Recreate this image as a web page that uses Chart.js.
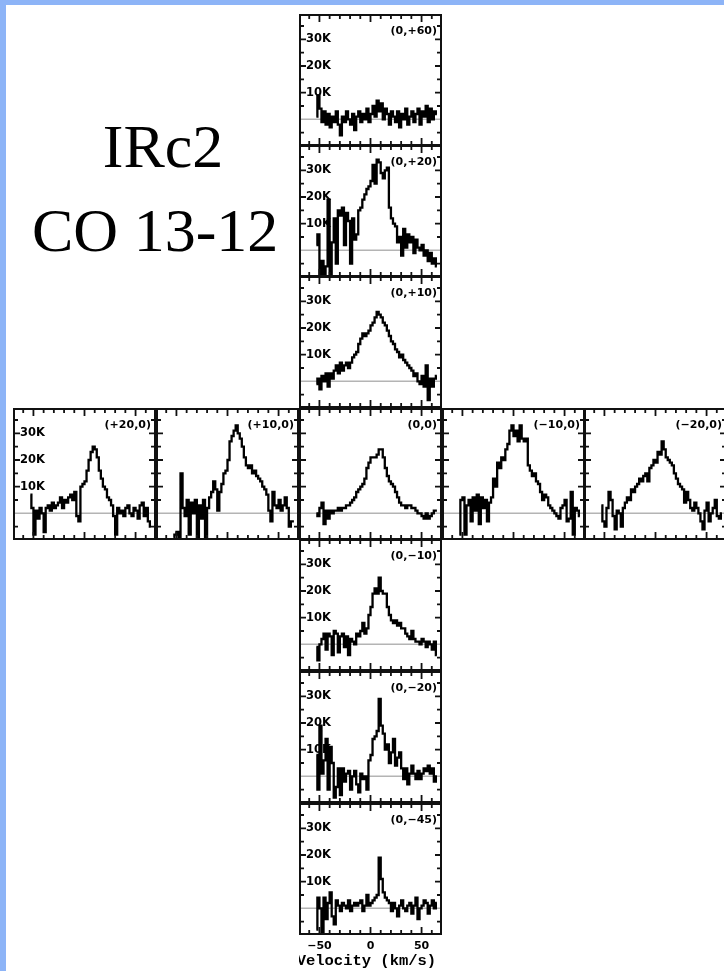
<!DOCTYPE html>
<html>
<head>
<meta charset="utf-8">
<script src="https://cdn.jsdelivr.net/npm/chart.js@4/dist/chart.umd.min.js"></script>
<style>
html,body{margin:0;padding:0;width:724px;height:971px;overflow:hidden;background:#fff;}
#stage{position:relative;width:724px;height:971px;overflow:hidden;background:#fff;}
.bl{position:absolute;left:0;top:0;width:6px;height:971px;background:#8db4f7;}
.bt{position:absolute;left:0;top:0;width:724px;height:5px;background:#8db4f7;}
.title{position:absolute;width:240px;text-align:center;font-family:"Liberation Serif","Times New Roman",serif;font-size:62px;line-height:62px;color:#000;white-space:nowrap;}
canvas.panel{position:absolute;}
</style>
</head>
<body>
<div id="stage">
  <div class="bl"></div>
  <div class="bt"></div>
  <div class="title" style="left:43px;top:115px;">IRc2</div>
  <div class="title" style="left:32px;top:199px;">CO 13-12</div>
</div>
<script>
// ---- data (velocity in km/s, antenna temperature in K) ----
const velocity = [-53,-51,-49,-47,-45,-43,-41,-39,-37,-35,-33,-31,-29,-27,-25,-23,-21,-19,-17,-15,
  -13,-11,-9,-7,-5,-3,-1,1,3,5,7,9,11,13,15,17,19,21,23,25,
  27,29,31,33,35,37,39,41,43,45,47,49,51,53,55,57,59,61,63,65];

const spec_0_p60 = [1,9,4,-1,3,-2,2,-3,1,-1, 3,-2,-6,1,-1,3,0,-2,2,-4, 1,3,-1,2,0,4,-1,2,5,1,
  7,3,6,0,4,2,-2,3,1,-1, 3,-3,2,0,4,-2,1,3,-1,2, 4,-2,3,1,5,-1,4,0,3,2];
const spec_0_p20 = [2,6,-9,-4,-10,-6,19,-9,3,12, -5,15,13,16,2,14,11,-5,12,4, 6,15,16,19,21,23,24,26,32,25,
  34,33,29,27,30,31,16,12,10,9, 3,5,-2,8,1,6,3,5,-1,4, 1,0,2,-2,0,-4,-1,-5,-3,-6];
const spec_0_p10 = [-1,1,-3,2,0,3,-2,3,1,4, 6,3,7,4,6,7,5,7,9,10, 11,14,16,18,17,18,19,21,22,24,
  26,25,24,22,21,19,17,15,14,12, 11,9,10,8,7,6,5,4,2,3, 0,-1,2,-2,6,-7,1,-2,1,2];
const spec_p20_0 = [7,2,-8,1,-2,2,0,-7,2,3, 1,4,2,3,4,6,2,5,4,6, 7,5,8,-1,-3,10,11,12,16,20,
  23,25,24,21,16,13,10,9,6,5, 3,-1,-8,2,0,1,-1,2,3,0, -1,2,1,-2,3,4,-1,2,-3,-5];
const spec_p10_0 = [-9,-8,-7,-9,15,2,-1,5,-8,4, 0,5,-9,3,-2,5,-9,2,6,8, 12,9,1,8,11,15,16,20,27,29,
  31,33,30,28,25,21,18,17,18,15, 16,14,13,12,10,9,7,1,-3,8, 3,2,5,1,3,6,2,-5,-3,-3];
const spec_0_0 = [0,-1,2,4,-4,1,-2,1,0,1, 1,2,1,2,2,3,3,4,5,6, 8,9,10,11,13,17,19,21,21,21,
  22,24,24,21,17,14,12,11,10,8, 6,4,3,3,2,3,3,2,2,1, 0,0,-1,-2,0,-2,-1,0,1,1];
const spec_m10_0 = [-8,5,6,-8,3,5,-3,6,1,7, -4,6,2,5,-3,4,6,13,10,19, 17,21,20,24,26,31,33,29,31,27,
  33,28,27,28,18,16,14,15,12,11, 8,5,7,6,3,2,1,0,-1,-2, 2,3,5,-3,-2,8,-8,2,1,-1];
const spec_m20_0 = [3,-3,-5,2,8,5,-1,-6,1,0, -5,2,4,6,5,9,8,10,11,13, 12,14,15,12,17,18,20,19,23,22,
  27,24,21,20,19,18,15,13,11,10, 9,4,8,5,2,1,4,2,0,-3, -6,1,4,-3,0,2,5,-1,-2,0];
const spec_0_m10 = [-1,-6,0,2,4,-2,4,3,-4,5, 4,-3,3,4,-1,3,-4,2,1,0, 4,3,5,8,4,6,11,14,19,21,
  19,25,20,19,19,14,11,9,8,9, 7,8,6,6,4,3,2,5,2,1, 1,0,2,1,-1,1,0,-2,1,-4];
const spec_0_m20 = [8,-5,19,1,6,14,-5,11,5,-8, -4,3,-7,3,-2,1,2,-5,0,2, -3,-6,1,-1,0,-5,6,8,14,15,
  17,29,19,16,10,12,5,9,14,4, 7,9,3,-1,3,-3,1,4,1,-1, 2,-1,1,3,2,4,1,3,-2,0];
const spec_0_m45 = [-8,4,0,-9,4,-4,2,6,-3,-6, 3,1,-1,2,1,0,3,-1,1,2, 1,2,3,-1,1,5,1,2,3,4,
  5,19,11,6,4,3,2,-1,2,0, -3,1,3,0,-1,1,2,-2,1,4, -4,0,1,3,2,-2,1,3,0,2];

const positionLabels = ['(0,+60)','(0,+20)','(0,+10)','(+20,0)','(+10,0)','(0,0)','(\u221210,0)','(\u221220,0)','(0,\u221210)','(0,\u221220)','(0,\u221245)'];
const yTickValues = [-5,5,10,15,20,25,30,35];
const yLabelValues = [10,20,30];
const yLabelTexts = ['10K','20K','30K'];
const xTickValues = [-60,-50,-40,-30,-20,-10,0,10,20,30,40,50,60];
const xLabelValues = [-50,0,50];
const xLabelTexts = ['\u221250','0','50'];
const xTitle = 'Velocity (km/s)';

// ---- layout ----
const PW = 143, PH = 132;
const panels = [
  {label:positionLabels[0], values:spec_0_p60, left:299, top:14,  yl:true},
  {label:positionLabels[1], values:spec_0_p20, left:299, top:145, yl:true},
  {label:positionLabels[2], values:spec_0_p10, left:299, top:276, yl:true},
  {label:positionLabels[3], values:spec_p20_0, left:13,  top:408, yl:true},
  {label:positionLabels[4], values:spec_p10_0, left:156, top:408, yl:false},
  {label:positionLabels[5], values:spec_0_0,   left:299, top:408, yl:false},
  {label:positionLabels[6], values:spec_m10_0, left:442, top:408, yl:false},
  {label:positionLabels[7], values:spec_m20_0, left:584, top:408, yl:false},
  {label:positionLabels[8], values:spec_0_m10, left:299, top:539, yl:true},
  {label:positionLabels[9], values:spec_0_m20, left:299, top:671, yl:true},
  {label:positionLabels[10], values:spec_0_m45, left:299, top:803, yl:true, xl:true}
];

const framePlugin = {
  id: 'panelFrame',
  beforeDatasetsDraw(chart, args, opts) {
    const {ctx, chartArea: a, scales: {y}} = chart;
    const y0 = y.getPixelForValue(0);
    ctx.save();
    ctx.strokeStyle = '#b4b4b4';
    ctx.lineWidth = 1.5;
    ctx.beginPath();
    ctx.moveTo(a.left, y0); ctx.lineTo(a.right, y0);
    ctx.stroke();
    ctx.restore();
  },
  afterDatasetsDraw(chart, args, opts) {
    const {ctx, chartArea: a, scales: {x, y}} = chart;
    ctx.save();
    ctx.strokeStyle = '#111';
    ctx.lineWidth = 2;
    ctx.strokeRect(a.left + 1, a.top + 1, a.right - a.left - 2, a.bottom - a.top - 2);
    ctx.lineWidth = 1.8;
    ctx.beginPath();
    for (const v of xTickValues) {
      const px = x.getPixelForValue(v);
      const L = xLabelValues.includes(v) ? 8 : 5;
      ctx.moveTo(px, a.top); ctx.lineTo(px, a.top + L);
      ctx.moveTo(px, a.bottom); ctx.lineTo(px, a.bottom - L);
    }
    for (const v of yTickValues) {
      const py = y.getPixelForValue(v);
      const L = yLabelValues.includes(v) ? 7 : 5;
      ctx.moveTo(a.left, py); ctx.lineTo(a.left + L, py);
      ctx.moveTo(a.right, py); ctx.lineTo(a.right - L, py);
    }
    ctx.stroke();
    ctx.fillStyle = '#000';
    ctx.textBaseline = 'middle';
    ctx.font = 'bold 11px "DejaVu Sans", sans-serif';
    ctx.textAlign = 'right';
    ctx.fillText(opts.label, a.right - 5, a.top + 17);
    if (opts.yl) {
      ctx.textAlign = 'left';
      ctx.font = 'bold 11.5px "DejaVu Sans", sans-serif';
      yLabelValues.forEach((v, i) => ctx.fillText(yLabelTexts[i], a.left + 7, y.getPixelForValue(v)));
    }
    if (opts.xl) {
      ctx.textAlign = 'center';
      ctx.font = 'bold 11px "DejaVu Sans", sans-serif';
      xLabelValues.forEach((v, i) => ctx.fillText(xLabelTexts[i], x.getPixelForValue(v), a.bottom + 11));
      ctx.font = 'bold 15.5px "Liberation Mono", monospace';
      ctx.fillText(xTitle, x.getPixelForValue(-4), a.bottom + 26);
    }
    ctx.restore();
  }
};

const stage = document.getElementById('stage');
panels.forEach(p => {
  const extra = p.xl ? 40 : 0;
  const c = document.createElement('canvas');
  c.className = 'panel';
  c.width = PW; c.height = PH + extra;
  c.style.left = p.left + 'px'; c.style.top = p.top + 'px';
  c.style.width = PW + 'px'; c.style.height = (PH + extra) + 'px';
  stage.appendChild(c);
  new Chart(c, {
    type: 'line',
    data: {
      datasets: [{
        data: velocity.map((v, i) => ({x: v, y: p.values[i]})),
        borderColor: '#000',
        borderWidth: 2.3,
        pointRadius: 0,
        stepped: 'middle',
        fill: false
      }]
    },
    options: {
      responsive: false,
      animation: false,
      devicePixelRatio: 1,
      events: [],
      layout: {padding: {left: 0, right: 0, top: 0, bottom: extra}},
      plugins: {
        legend: {display: false},
        tooltip: {enabled: false},
        panelFrame: {label: p.label, yl: p.yl, xl: !!p.xl}
      },
      scales: {
        x: {type: 'linear', min: -70, max: 70, display: false},
        y: {type: 'linear', min: -10, max: 39.5, display: false}
      }
    },
    plugins: [framePlugin]
  });
});
</script>
</body>
</html>
